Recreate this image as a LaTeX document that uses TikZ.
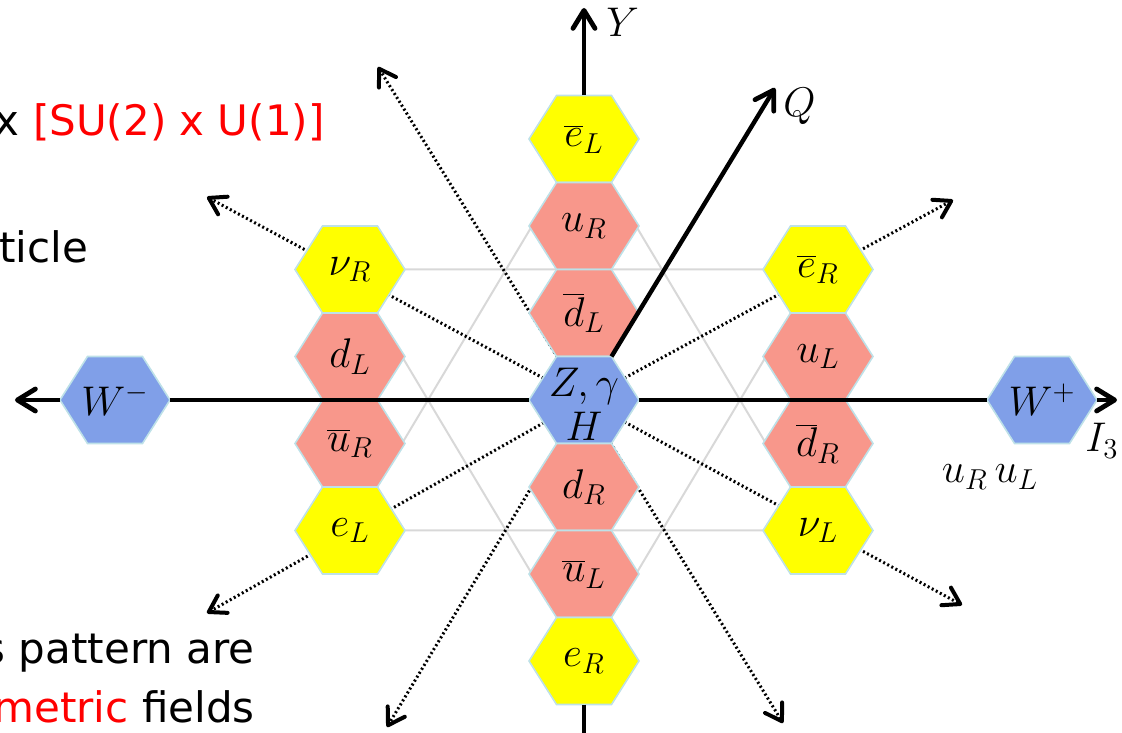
\documentclass[tikz,border=0pt]{standalone}
\usepackage{fontspec}
\newfontfamily\slidefont{DejaVu Sans}
\usepackage{xcolor}
\usepackage{tikz}
\usetikzlibrary{arrows.meta,shapes.symbols,backgrounds,calc}

\definecolor{hexyellow}{RGB}{255,255,0}
\definecolor{hexsalmon}{RGB}{248,151,139}
\definecolor{hexblue}{RGB}{128,159,232}
\definecolor{hexedge}{RGB}{190,225,232}
\definecolor{lattgray}{RGB}{216,216,216}

\begin{document}
\begin{tikzpicture}[x=0.5pt,y=0.5pt,
		every node/.style={font=\fontsize{22}{22}\selectfont},
		hexa/.style={signal, signal to=east and west, signal pointer angle=115.4, draw=hexedge, line width=0.8pt, minimum width=55pt, minimum height=43.5pt, inner sep=0pt, outer sep=0pt},
		lepton/.style={hexa, fill=hexyellow},
		quark/.style={hexa, fill=hexsalmon},
		boson/.style={hexa, fill=hexblue},
		axis/.style={line width=2.2pt, -{Straight Barb[length=9pt,width=11pt,line width=2.4pt,round]}},
		flow/.style={line width=1.5pt, dash pattern=on 1pt off 1.3pt, -{Straight Barb[length=8pt,width=10pt,line width=2pt,round]}},
		latt/.style={draw=lattgray, line width=1pt},
		slide/.style={font=\slidefont\fontsize{21}{26}\selectfont, inner sep=0pt}]
	\useasboundingbox (-584,-332) rectangle (538,400);
	\clip (-584,-332) rectangle (538,400);
	% middle column
	\node[lepton, label={center:$\overline{e}_L$}] (eLb) at (0,261) {};
	\node[quark, label={center:$u_R$}] (uR) at (0,174) {};
	\node[quark, label={center:$\overline{d}_L$}] (dLb) at (0,87) {};
	\node[boson, label={[align=center,yshift=-2pt]center:{$Z,\gamma$\\$H$}}] (Z) at (0,0) {};
	\node[quark, label={center:$d_R$}] (dR) at (0,-87) {};
	\node[quark, label={center:$\overline{u}_L$}] (uLb) at (0,-174) {};
	\node[lepton, label={center:$e_R$}] (eR) at (0,-261) {};
	% left column
	\node[lepton, label={center:$\nu_R$}] (nuR) at (-234,130.5) {};
	\node[quark, label={center:$d_L$}] (dL) at (-234,43.5) {};
	\node[quark, label={center:$\overline{u}_R$}] (uRb) at (-234,-43.5) {};
	\node[lepton, label={center:$e_L$}] (eL) at (-234,-130.5) {};
	% right column
	\node[lepton, label={center:$\overline{e}_R$}] (eRb) at (234,130.5) {};
	\node[quark, label={center:$u_L$}] (uL) at (234,43.5) {};
	\node[quark, label={center:$\overline{d}_R$}] (dRb) at (234,-43.5) {};
	\node[lepton, label={center:$\nu_L$}] (nuL) at (234,-130.5) {};
	% W bosons
	\node[boson, label={center:$W^-$}] (Wm) at (-469,0) {};
	\node[boson, label={center:$W^+$}] (Wp) at (458,0) {};
	% arrow ends
	\coordinate (fNNW) at (-206,333);
	\coordinate (fWNW) at (-377,203);
	\coordinate (fENE) at (369,200);
	\coordinate (fWSW) at (-377,-213);
	\coordinate (fESE) at (378,-205);
	\coordinate (fSSW) at (-197,-327);
	\coordinate (fSSE) at (199,-323);
	\coordinate (Ytip) at (0,392);
	\coordinate (Ybot) at (0,-345);
	\coordinate (Qtip) at (191,312);
	\coordinate (Ineg) at (-569,0);
	\coordinate (Ipos) at (533,0);
	\begin{scope}[on background layer]
		\draw[latt] (eLb.center) -- (eL.center) -- (nuL.center) -- cycle;
		\draw[latt] (eR.center) -- (nuR.center) -- (eRb.center) -- cycle;
		\foreach \f in {fNNW,fWNW,fENE,fWSW,fESE,fSSW,fSSE}
			\draw[flow] (Z.center) -- (\f);
	\end{scope}
	% axes
	\draw[axis] (eLb.north) -- (Ytip);
	\draw[line width=2.2pt] (eR.south) -- (Ybot);
	\draw[axis] (Z.north east) -- (Qtip);
	\draw[axis] (Wm.west) -- (Ineg);
	\draw[line width=2.2pt] (Wm.east) -- (Z.west);
	\draw[line width=2.2pt] (Z.east) -- (Wp.west);
	\draw[axis] (Wp.east) -- (Ipos);
	\node[anchor=base west, inner sep=0pt] (Ylab) at (22,363) {$Y$};
	\node[anchor=base west, inner sep=0pt] (Qlab) at (199,283) {$Q$};
	\node[anchor=base west, inner sep=0pt] (Ilab) at (501,-52) {$I_3$};
	\node[anchor=base, inner sep=0pt] (uulab) at (406,-83) {$u_R\,u_L$};
	% slide text
	\node[slide, anchor=base east] (grp) at (-259,264) {x \textcolor{red}{[SU(2) x U(1)]}};
	\node[slide, anchor=base west] (ptc) at (-585,137) {ticle};
	\node[slide, anchor=base east] (pat) at (-329,-263) {s pattern are};
	\node[slide, anchor=base east] (fld) at (-329,-322) {\textcolor{red}{metric} fields};
\end{tikzpicture}
\end{document}
